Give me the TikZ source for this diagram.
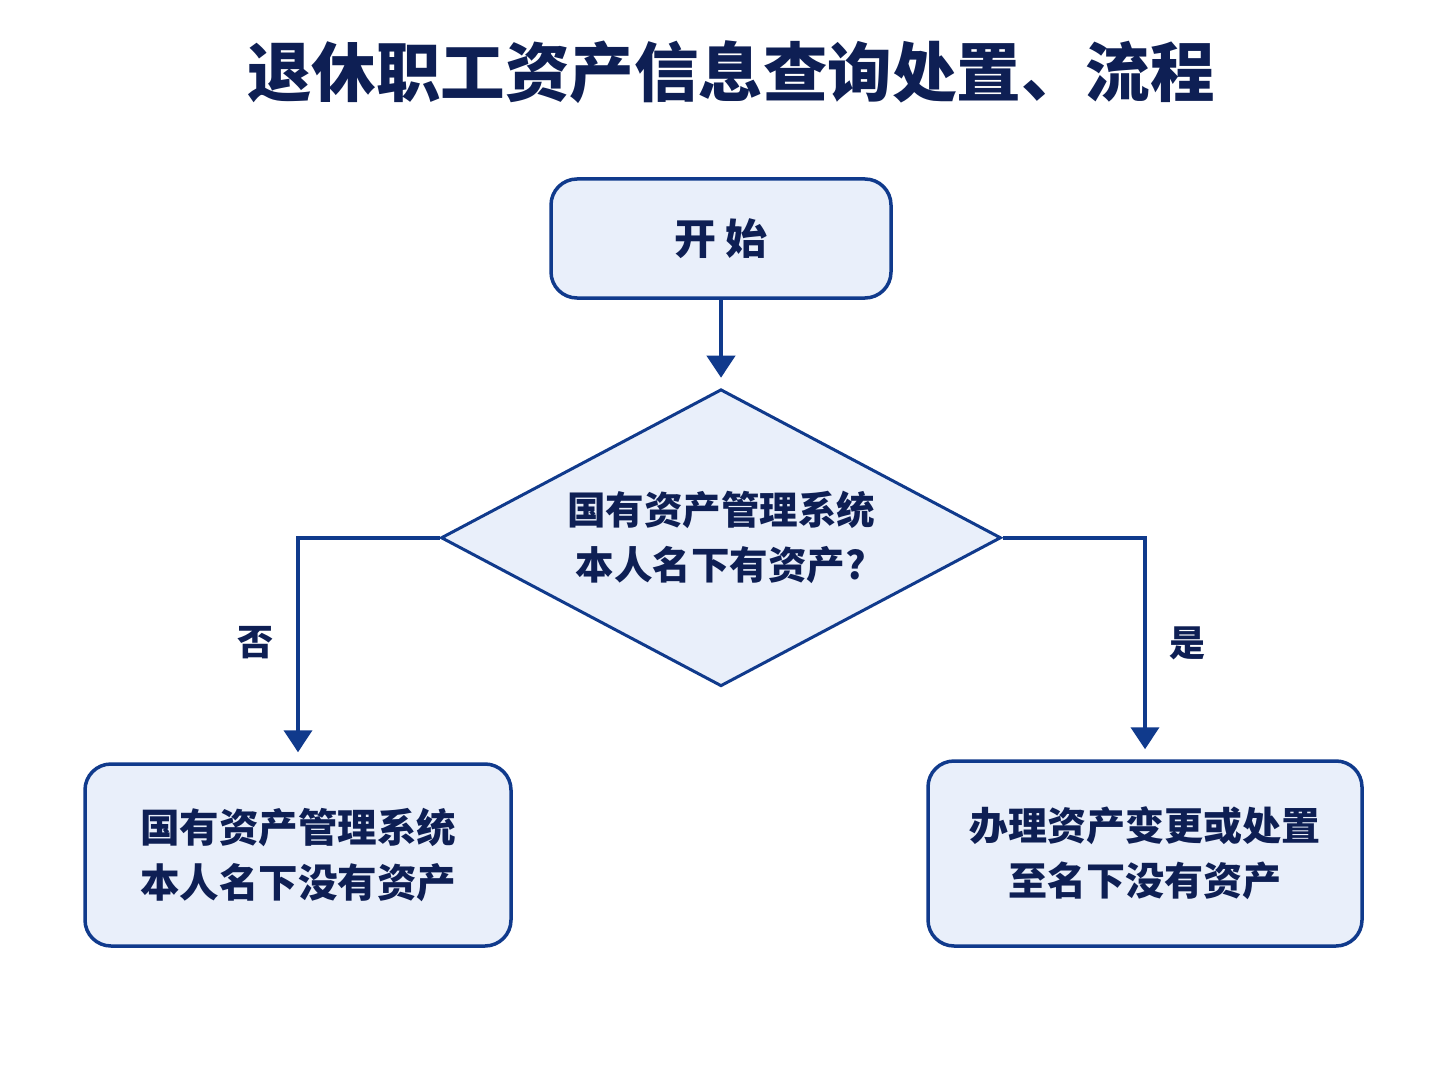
\documentclass[tikz,border=0pt]{standalone}
\usepackage{fontspec}
\setmainfont{Noto Sans CJK SC}
\usepackage{tikz}
\usetikzlibrary{shapes.geometric,arrows.meta,positioning}
\definecolor{navy}{RGB}{14, 31, 84}
\definecolor{edgeblue}{RGB}{16, 58, 140}
\definecolor{boxfill}{RGB}{233, 239, 250}
\tikzstyle{stepbox} = [rectangle, rounded corners=26pt, draw=edgeblue, line width=3.5pt, fill=boxfill, text=navy, align=center, font=\bfseries\fontsize{39.5}{55}\selectfont, inner sep=0pt]
\tikzstyle{decision} = [diamond, draw=edgeblue, line width=3pt, fill=boxfill, text=navy, align=center, font=\bfseries\fontsize{38.5}{55}\selectfont, inner sep=0pt, aspect=1.89, minimum width=560pt, minimum height=297pt]
\tikzstyle{answer} = [text=navy, font=\bfseries\fontsize{36}{40}\selectfont]
\tikzstyle{tedge}  = [draw=edgeblue, line width=4pt, -{Triangle[width=28pt,length=22pt]}, shorten >=10pt]

\begin{document}
\begin{tikzpicture}[x=1pt, y=1pt]
\useasboundingbox[fill=white] (0,0) rectangle (1448,-1086);

% title ==================================
\node[text=navy, font=\bfseries\fontsize{64.5}{70}\selectfont] (title) at (731,-72) {退休职工资产信息查询处置、流程};

% nodes ==================================
\node[stepbox, minimum width=340pt, minimum height=119pt, font=\bfseries\fontsize{42}{50}\selectfont] (start) at (721,-238.5) {开\ 始};
\node[decision, below=88pt of start] (check) {国有资产管理系统\\本人名下有资产?};

\node[stepbox, minimum width=426pt, minimum height=182pt] (noasset) at (298,-855) {国有资产管理系统\\本人名下没有资产};
\node[stepbox, minimum width=434pt, minimum height=185pt, font=\bfseries\fontsize{39}{55}\selectfont] (dispose) at (1145,-853.5) {办理资产变更或处置\\至名下没有资产};

% edges ==================================
\path[tedge] (start) -- (check);
\path[tedge] (check.west) -| (noasset.north);
\path[tedge] (check.east) -| (dispose.north);

% labels
\node[answer] (no) at (255,-643) {否};
\node[answer] (yes) at (1187,-643) {是};

\end{tikzpicture}
\end{document}
